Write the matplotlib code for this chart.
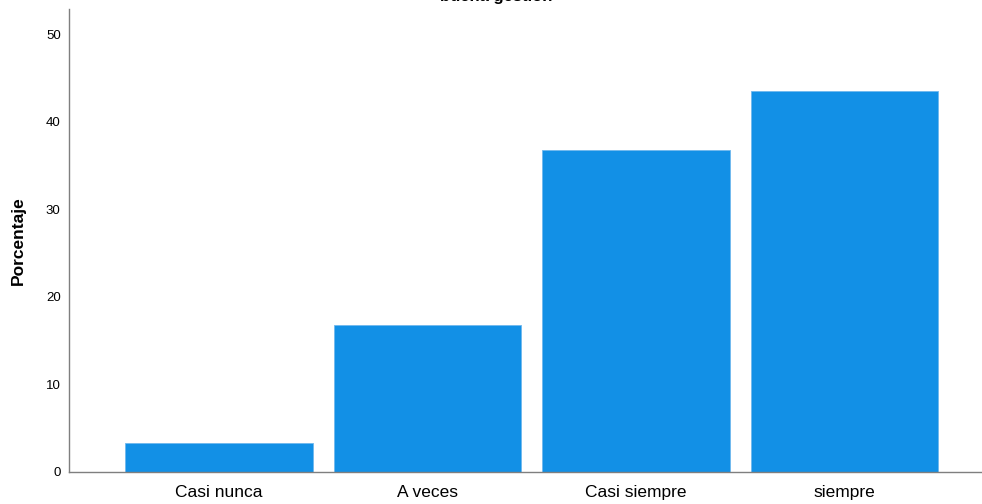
import matplotlib
matplotlib.use("Agg")
import matplotlib.pyplot as plt

plt.rcParams['font.family'] = ['Liberation Sans', 'DejaVu Sans']

categories = ["Casi nunca", "A veces", "Casi siempre", "siempre"]
percentages = [3.3, 16.7, 36.8, 43.5]
y_ticks = [0, 10, 20, 30, 40, 50]
title = "buena gestión"
y_label = "Porcentaje"

fig = plt.figure(figsize=(9.82, 5.04), dpi=100)
ax = fig.add_axes([69/982, 1 - 471.5/504, 1 - 69/982, (471.5 - 9)/504])

x = list(range(len(categories)))
ax.bar(x, percentages, width=0.9, color='#1290e6', edgecolor='#6fb8ee', linewidth=0.6)

ax.set_xlim(-0.72, 3.66)
ax.set_ylim(0, 52.9)
ax.set_yticks(y_ticks)
ax.set_yticklabels([str(t) for t in y_ticks], fontsize=9.5)
ax.set_xticks(x)
ax.set_xticklabels(categories, fontsize=12.5)
ax.tick_params(axis='y', length=0, pad=6)
ax.tick_params(axis='x', length=0, pad=10)

for s in ['top', 'right']:
    ax.spines[s].set_visible(False)
for s in ['left', 'bottom']:
    ax.spines[s].set_color('#7f7f7f')
    ax.spines[s].set_linewidth(1.0)

ax.set_ylabel(y_label, fontsize=12.5, fontweight='bold', labelpad=14)

fig.text(496/982, 1 - 1/504, title, ha='center', va='baseline', fontsize=12, fontweight='bold')

fig.savefig("out.png", dpi=100)
